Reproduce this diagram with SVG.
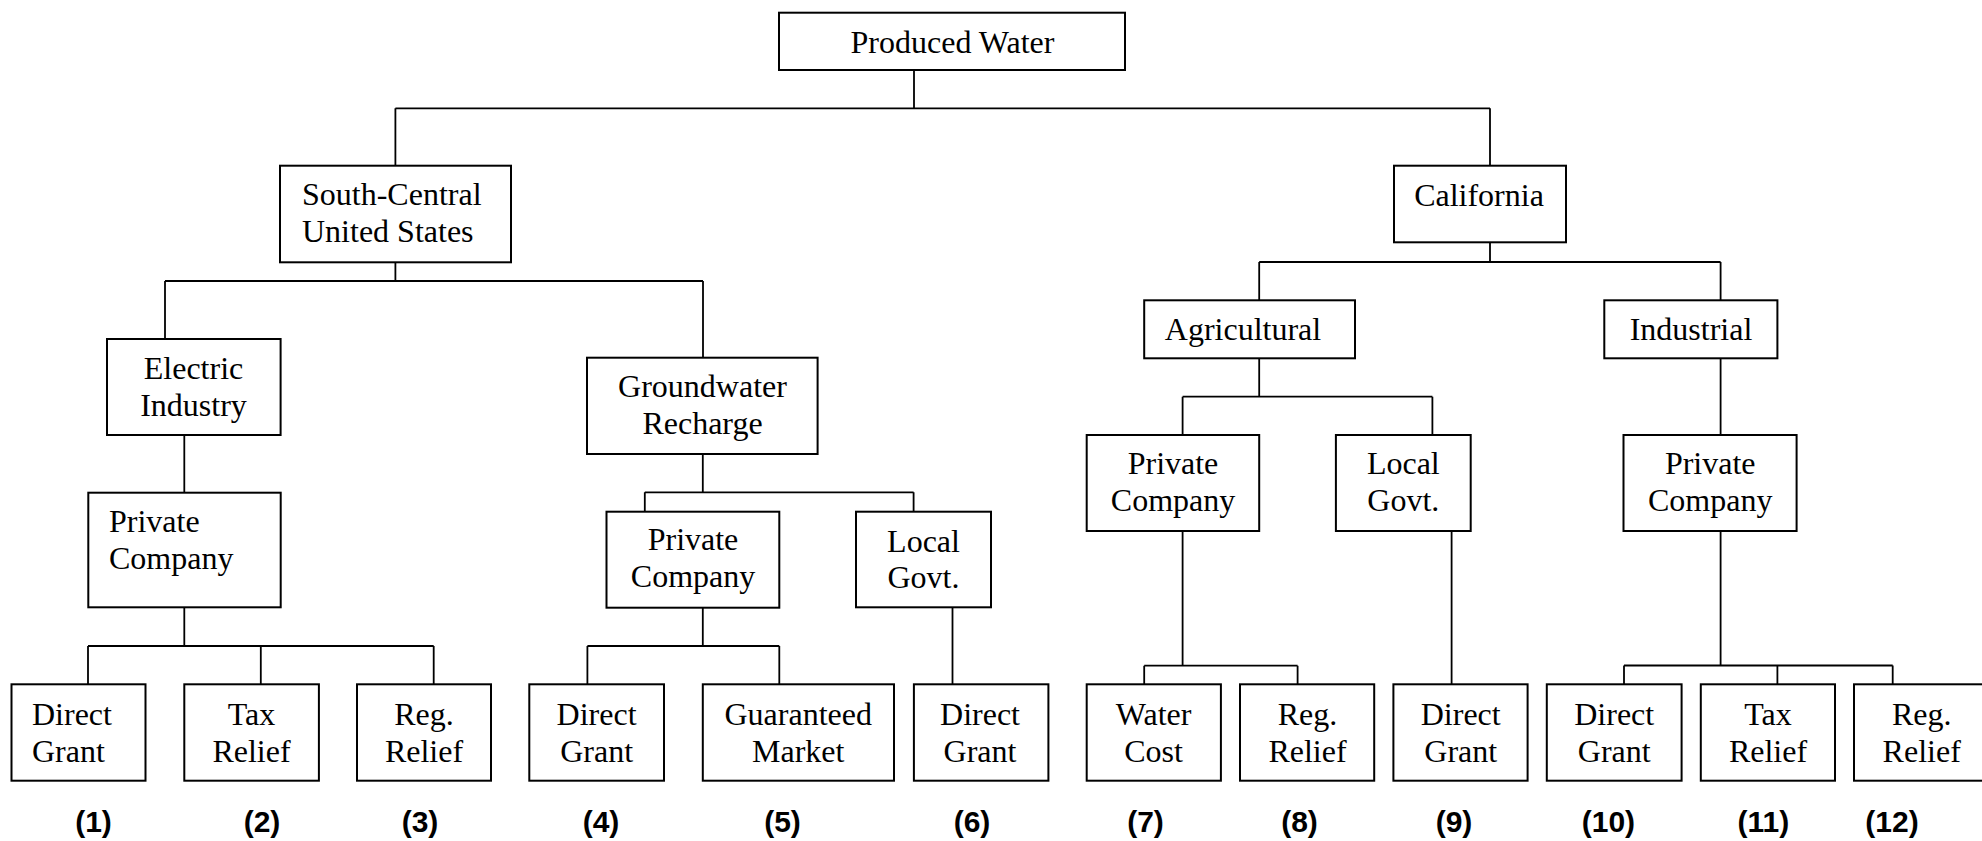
<svg xmlns="http://www.w3.org/2000/svg" width="1982" height="841" viewBox="0 0 1982 841">
  <style>
    .box { fill: #ffffff; stroke: #000000; stroke-width: 2; }
    .lbl { font-family: "Liberation Serif", "Times New Roman", serif; font-size: 32px; fill: #000000; text-anchor: middle; }
    .lft { text-anchor: start; }
    .num { font-family: "Liberation Sans", Arial, sans-serif; font-size: 30px; font-weight: bold; fill: #000000; text-anchor: middle; }
    .wire { fill: none; stroke: #000000; stroke-width: 1.8; }
  </style>
  <rect width="1982" height="841" fill="#ffffff"/>

  <!-- connectors -->
  <g id="connectors" class="wire">
    <path d="M914,70 V108.3 M395.4,108.3 H1490 M395.4,108.3 V165.7 M1490,108.3 V165.7"/>
    <path d="M395.4,262.3 V281 M165,281 H703 M165,281 V339 M703,281 V357.7"/>
    <path d="M184.3,435 V492.7"/>
    <path d="M184.3,607.3 V646 M88,646 H433.7 M88,646 V684.3 M260.8,646 V684.3 M433.7,646 V684.3"/>
    <path d="M702.8,454 V492.3 M644.8,492.3 H913.6 M644.8,492.3 V511.7 M913.6,492.3 V511.7"/>
    <path d="M702.8,607.7 V646 M587.4,646 H779.3 M587.4,646 V684.3 M779.3,646 V684.3"/>
    <path d="M952.5,607.3 V684.3"/>
    <path d="M1490,242.3 V262 M1259.2,262 H1720.6 M1259.2,262 V300.3 M1720.6,262 V300.3"/>
    <path d="M1259.2,358.3 V396.7 M1182.6,396.7 H1432.4 M1182.6,396.7 V435 M1432.4,396.7 V435"/>
    <path d="M1720.6,358.3 V435"/>
    <path d="M1182.6,531 V665.7 M1144.2,665.7 H1297.6 M1144.2,665.7 V684.3 M1297.6,665.7 V684.3"/>
    <path d="M1451.6,531 V684.3"/>
    <path d="M1720.6,531 V665.5 M1624,665.5 H1892.7 M1624,665.5 V684.3 M1777.4,665.5 V684.3 M1892.7,665.5 V684.3"/>
  </g>

  <!-- root -->
  <g id="produced-water">
    <rect class="box" x="779" y="12.7" width="346" height="57.3"/>
    <text class="lbl" x="952.5" y="53">Produced Water</text>
  </g>

  <!-- level 1 -->
  <g id="south-central">
    <rect class="box" x="280" y="165.7" width="231" height="96.6"/>
    <text class="lbl lft" x="302" y="205">South-Central</text>
    <text class="lbl lft" x="302" y="242">United States</text>
  </g>
  <g id="california">
    <rect class="box" x="1394" y="165.7" width="172" height="76.6"/>
    <text class="lbl" x="1479" y="206">California</text>
  </g>

  <!-- level 2 -->
  <g id="electric-industry">
    <rect class="box" x="107" y="339" width="173.6" height="96"/>
    <text class="lbl" x="193.5" y="379">Electric</text>
    <text class="lbl" x="193.5" y="416">Industry</text>
  </g>
  <g id="groundwater-recharge">
    <rect class="box" x="587" y="357.7" width="230.6" height="96.3"/>
    <text class="lbl" x="702.5" y="397">Groundwater</text>
    <text class="lbl" x="702.5" y="434">Recharge</text>
  </g>
  <g id="agricultural">
    <rect class="box" x="1144.2" y="300.3" width="210.8" height="58"/>
    <text class="lbl" x="1243" y="340">Agricultural</text>
  </g>
  <g id="industrial">
    <rect class="box" x="1604.3" y="300.3" width="173.1" height="58"/>
    <text class="lbl" x="1691" y="340">Industrial</text>
  </g>

  <!-- level 3 -->
  <g id="private-company-1">
    <rect class="box" x="88.3" y="492.7" width="192.4" height="114.6"/>
    <text class="lbl lft" x="109" y="532">Private</text>
    <text class="lbl lft" x="109" y="569">Company</text>
  </g>
  <g id="private-company-2">
    <rect class="box" x="606.5" y="511.7" width="172.8" height="96"/>
    <text class="lbl" x="693" y="550">Private</text>
    <text class="lbl" x="693" y="587">Company</text>
  </g>
  <g id="local-govt-1">
    <rect class="box" x="856" y="511.7" width="135" height="95.6"/>
    <text class="lbl" x="923.5" y="551.5">Local</text>
    <text class="lbl" x="923.5" y="588.3">Govt.</text>
  </g>
  <g id="private-company-3">
    <rect class="box" x="1086.7" y="435" width="172.5" height="96"/>
    <text class="lbl" x="1173" y="474">Private</text>
    <text class="lbl" x="1173" y="511">Company</text>
  </g>
  <g id="local-govt-2">
    <rect class="box" x="1335.9" y="435" width="134.8" height="96"/>
    <text class="lbl" x="1403.3" y="474">Local</text>
    <text class="lbl" x="1403.3" y="511">Govt.</text>
  </g>
  <g id="private-company-4">
    <rect class="box" x="1623.5" y="435" width="173.1" height="96"/>
    <text class="lbl" x="1710.2" y="474">Private</text>
    <text class="lbl" x="1710.2" y="511">Company</text>
  </g>

  <!-- leaves -->
  <g id="leaf-1">
    <rect class="box" x="11.5" y="684.3" width="134" height="96.4"/>
    <text class="lbl lft" x="32" y="725">Direct</text>
    <text class="lbl lft" x="32" y="762">Grant</text>
  </g>
  <g id="leaf-2">
    <rect class="box" x="184.3" y="684.3" width="134.6" height="96.4"/>
    <text class="lbl" x="251.5" y="725">Tax</text>
    <text class="lbl" x="251.5" y="762">Relief</text>
  </g>
  <g id="leaf-3">
    <rect class="box" x="357" y="684.3" width="134" height="96.4"/>
    <text class="lbl" x="424" y="725">Reg.</text>
    <text class="lbl" x="424" y="762">Relief</text>
  </g>
  <g id="leaf-4">
    <rect class="box" x="529.3" y="684.3" width="134.7" height="96.4"/>
    <text class="lbl" x="596.6" y="725">Direct</text>
    <text class="lbl" x="596.6" y="762">Grant</text>
  </g>
  <g id="leaf-5">
    <rect class="box" x="702.8" y="684.3" width="191.2" height="96.4"/>
    <text class="lbl" x="798.2" y="725">Guaranteed</text>
    <text class="lbl" x="798.2" y="762">Market</text>
  </g>
  <g id="leaf-6">
    <rect class="box" x="913.9" y="684.3" width="134.5" height="96.4"/>
    <text class="lbl" x="980" y="725">Direct</text>
    <text class="lbl" x="980" y="762">Grant</text>
  </g>
  <g id="leaf-7">
    <rect class="box" x="1086.7" y="684.3" width="134.2" height="96.4"/>
    <text class="lbl" x="1153.6" y="725">Water</text>
    <text class="lbl" x="1153.6" y="762">Cost</text>
  </g>
  <g id="leaf-8">
    <rect class="box" x="1240" y="684.3" width="134.2" height="96.4"/>
    <text class="lbl" x="1307.5" y="725">Reg.</text>
    <text class="lbl" x="1307.5" y="762">Relief</text>
  </g>
  <g id="leaf-9">
    <rect class="box" x="1393.4" y="684.3" width="134.2" height="96.4"/>
    <text class="lbl" x="1460.7" y="725">Direct</text>
    <text class="lbl" x="1460.7" y="762">Grant</text>
  </g>
  <g id="leaf-10">
    <rect class="box" x="1546.8" y="684.3" width="134.8" height="96.4"/>
    <text class="lbl" x="1614.2" y="725">Direct</text>
    <text class="lbl" x="1614.2" y="762">Grant</text>
  </g>
  <g id="leaf-11">
    <rect class="box" x="1700.8" y="684.3" width="134.2" height="96.4"/>
    <text class="lbl" x="1768" y="725">Tax</text>
    <text class="lbl" x="1768" y="762">Relief</text>
  </g>
  <g id="leaf-12">
    <rect class="box" x="1854" y="684.3" width="134" height="96.4"/>
    <text class="lbl" x="1921.7" y="725">Reg.</text>
    <text class="lbl" x="1921.7" y="762">Relief</text>
  </g>

  <!-- option numbers -->
  <g id="numbers">
    <text class="num" x="93.5" y="832">(1)</text>
    <text class="num" x="262" y="832">(2)</text>
    <text class="num" x="420" y="832">(3)</text>
    <text class="num" x="601" y="832">(4)</text>
    <text class="num" x="782.5" y="832">(5)</text>
    <text class="num" x="972" y="832">(6)</text>
    <text class="num" x="1145.5" y="832">(7)</text>
    <text class="num" x="1299.5" y="832">(8)</text>
    <text class="num" x="1454" y="832">(9)</text>
    <text class="num" x="1608.4" y="832">(10)</text>
    <text class="num" x="1763.4" y="832">(11)</text>
    <text class="num" x="1892" y="832">(12)</text>
  </g>
</svg>
